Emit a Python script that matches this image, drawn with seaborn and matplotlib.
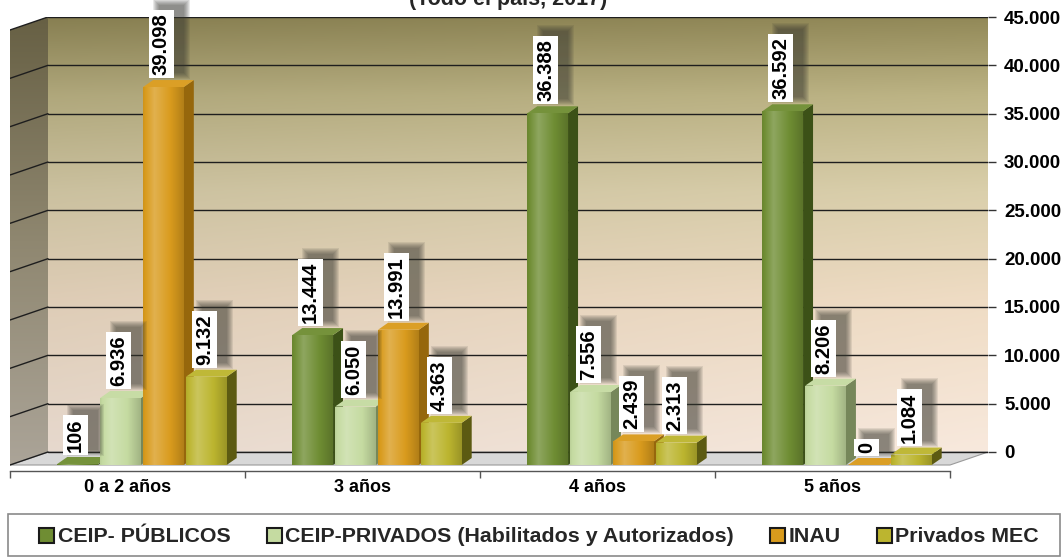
import numpy as np
import pandas as pd
import matplotlib
matplotlib.use("Agg")
import matplotlib.pyplot as plt
import seaborn as sns
from matplotlib.colors import to_rgb, LinearSegmentedColormap
from matplotlib.patches import Polygon, Rectangle
from matplotlib.transforms import IdentityTransform

# datos del grafico
edades = ["0 a 2 años", "3 años", "4 años", "5 años"]
series = ["CEIP- PÚBLICOS", "CEIP-PRIVADOS (Habilitados y Autorizados)", "INAU", "Privados MEC"]
ceip_publicos = [106, 13444, 36388, 36592]
ceip_privados = [6936, 6050, 7556, 8206]
inau = [39098, 13991, 2439, 0]
privados_mec = [9132, 4363, 2313, 1084]
ticks_y = [0, 5000, 10000, 15000, 20000, 25000, 30000, 35000, 40000, 45000]
titulo = "(Todo el país, 2017)"

colores = ["#6f8d33", "#c5dba1", "#d99b1d", "#bcb52f"]
laterales = ["#3c5117", "#76875a", "#96670c", "#5c5a12"]

df = pd.DataFrame({
    "edad": edades * 4,
    "serie": np.repeat(series, 4),
    "valor": ceip_publicos + ceip_privados + inau + privados_mec,
})

sns.set_theme(style="white")
plt.rcParams["font.family"] = ["Liberation Sans", "DejaVu Sans"]
plt.rcParams["font.weight"] = "bold"

W, H = 1064, 558
fig = plt.figure(figsize=(W / 100, H / 100), dpi=100)
ax = fig.add_axes([10 / W, 1 - 471 / H, 978 / W, 454 / H])

upp = 103.45               # valor por pixel
dx, dy = 38 / 235, 13 * upp    # profundidad de paredes y piso
bdx, bdy = 10 / 235, 7 * upp   # profundidad de las barras
off = 14.5 / 235               # barras corridas hacia el fondo
x0, x1 = -0.5, 3.5
techo = ticks_y[-1]
px = 0.72                      # pixel -> puntos


def mezcla(c, f):
    c = np.array(to_rgb(c))
    return np.clip(c + (1 - c) * f if f > 0 else c * (1 + f), 0, 1)


# pared del fondo con degradado
cm_fondo = LinearSegmentedColormap.from_list(
    "fondo", [(0, "#f8e9dd"), (0.35, "#efdcc4"), (0.6, "#dacfab"), (0.82, "#bdb485"), (1, "#928958")])
grad = cm_fondo(np.linspace(0, 1, 256))[:, None, :3] * np.linspace(0.93, 1.0, 64)[None, :, None]
ax.imshow(grad, extent=(x0 + dx, x1 + dx, dy, techo + dy), origin="lower", aspect="auto", zorder=0)

# pared izquierda
cm_lado = LinearSegmentedColormap.from_list("lado", ["#aba498", "#8f8770", "#676044"])
pared = Polygon([(x0, 0), (x0, techo), (x0 + dx, techo + dy), (x0 + dx, dy)], closed=True,
                fc="none", ec="none")
ax.add_patch(pared)
im = ax.imshow(cm_lado(np.linspace(0, 1, 256))[:, None, :3], extent=(x0, x0 + dx, 0, techo + dy),
               origin="lower", aspect="auto", zorder=0.5)
im.set_clip_path(pared)

# piso
ax.add_patch(Polygon([(x0, 0), (x1, 0), (x1 + dx, dy), (x0 + dx, dy)], closed=True,
                     fc="#d8d8d8", ec="#9a9a9a", lw=0.8, zorder=1))

# lineas de division
for v in ticks_y:
    ax.plot([x0 + dx, x1 + dx], [v + dy, v + dy], color="#1e1e1e", lw=1, zorder=1.5)
    ax.plot([x0, x0 + dx], [v, v + dy], color="#1e1e1e", lw=1, zorder=1.5)

# barras
sns.barplot(data=df, x="edad", y="valor", hue="serie", order=edades, hue_order=series,
            palette=colores, saturation=1, width=0.73, gap=0.05, errorbar=None,
            legend=False, ax=ax)

etiquetas = []
for cont, col, lat in zip(ax.containers, colores, laterales):
    for barra in cont.patches:
        barra.set_x(barra.get_x() + off)
        bx, bw, bh = barra.get_x(), barra.get_width(), barra.get_height()
        z = 3 + bx
        barra.set_zorder(z + 0.02)
        barra.set_edgecolor("none")
        lado = Polygon([(bx + bw, 0), (bx + bw + bdx, bdy), (bx + bw + bdx, bh + bdy), (bx + bw, bh)],
                       closed=True, fc=lat, ec="none", zorder=z)
        tapa = Polygon([(bx, bh), (bx + bdx, bh + bdy), (bx + bw + bdx, bh + bdy), (bx + bw, bh)],
                       closed=True, fc=mezcla(col, 0.04), ec="none", zorder=z + 0.01)
        ax.add_patch(lado)
        ax.add_patch(tapa)
        # brillo cilindrico en la cara frontal
        perfil = np.interp(np.linspace(0, 1, 64), [0, 0.28, 0.6, 1], [-0.05, 0.22, 0.04, -0.18])
        cara = np.array([mezcla(col, f) for f in perfil])[None, :, :]
        g = ax.imshow(cara, extent=(bx, bx + bw, 0, max(bh, 1)), aspect="auto", zorder=z + 0.03)
        g.set_clip_path(barra)

        txt = f"{int(bh):,}".replace(",", ".")
        t = ax.annotate(txt, xy=(bx + bw / 2, bh), xytext=(-2 * px, 12 * px),
                        textcoords="offset points", rotation=90, ha="center", va="bottom",
                        fontsize=14.5, fontweight="bold", color="black", zorder=10,
                        bbox=dict(boxstyle="square,pad=0.15", fc="white", ec="none"),
                        annotation_clip=False)
        etiquetas.append(t)

ax.set_xlim(x0, x1 + dx)
ax.set_ylim(-6 * upp, techo + dy)

# ejes
for s in ["top", "left", "right"]:
    ax.spines[s].set_visible(False)
ax.spines["bottom"].set_bounds(x0, x1)
ax.spines["bottom"].set_color("#555555")
ax.spines["bottom"].set_linewidth(1)
ax.set_xticks(range(len(edades)))
ax.set_xticklabels(edades, fontsize=13, fontweight="bold", color="black")
ax.set_xticks([x0 + i for i in range(len(edades) + 1)], minor=True)
ax.tick_params(axis="x", which="major", length=0, pad=6)
ax.tick_params(axis="x", which="minor", bottom=True, length=5, width=1, color="#555555", direction="out")
ax.set_xlabel("")
ax.set_ylabel("")

ax.yaxis.tick_right()
ax.set_yticks([v + dy for v in ticks_y])
ax.set_yticklabels([f"{v:,}".replace(",", ".") for v in ticks_y], fontsize=13.5, fontweight="bold",
                   color="black")
ax.tick_params(axis="y", right=True, length=6, width=1, color="#333333", pad=5.5)
ax.grid(False)

fig.text(508 / W, 1 - 5 / H, titulo, ha="center", va="baseline", fontsize=15.5, fontweight="bold")

# leyenda
manijas = [Rectangle((0, 0), 1, 1, fc=c, ec="#1a1a1a", lw=1.5) for c in colores]
fig.legend(manijas, series, loc="center", bbox_to_anchor=(539 / W, 1 - 537 / H), ncol=4,
           frameon=False, prop=dict(size=15.4, weight="bold"), handlelength=0.7, handleheight=0.7,
           handletextpad=0.15, columnspacing=1.7)
fig.add_artist(Rectangle((8 / W, 1 - 556 / H), 1052 / W, 42 / H, transform=fig.transFigure,
                         fill=False, ec="#8a8a8a", lw=1.2))

# sombras difusas de las etiquetas (a partir de la caja ya dibujada)
fig.canvas.draw()
for t in etiquetas:
    bb = t.get_bbox_patch().get_window_extent()
    for k in range(7):
        e = 6 - k
        ax.add_patch(Rectangle((bb.x0 + 10 - e, bb.y0 + 5 - e), bb.width + 2 * e, bb.height + 2 * e,
                               transform=IdentityTransform(), fc="#3a3a32", ec="none",
                               alpha=0.11, zorder=9, clip_on=False))

fig.savefig("out.png", dpi=100)
